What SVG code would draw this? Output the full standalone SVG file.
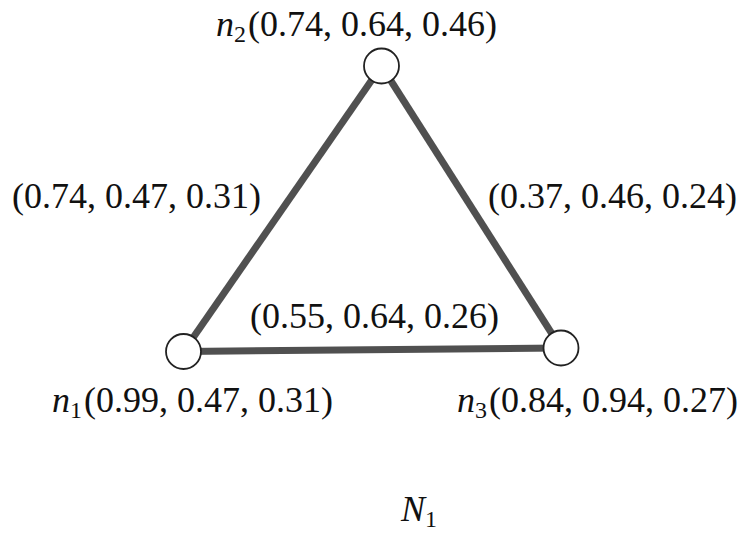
<svg xmlns="http://www.w3.org/2000/svg" width="751" height="537" viewBox="0 0 751 537">
<defs>
<circle id="nodeShape" r="17.5" fill="#fff" stroke="#222" stroke-width="1.8"/>
</defs>
<rect width="751" height="537" fill="#fff"/>
<g id="connectors" stroke="#505050" stroke-width="7" fill="none">
<line x1="381.5" y1="66" x2="183.5" y2="351.5"/>
<line x1="381.5" y1="66" x2="561" y2="348"/>
<line x1="183.5" y1="351.5" x2="561" y2="348"/>
</g>
<g id="edge-labels">
<text font-family="Liberation Serif" font-size="36" fill="#111" x="12" y="208">(0.74, 0.47, 0.31)</text>
<text font-family="Liberation Serif" font-size="36" fill="#111" x="488" y="208">(0.37, 0.46, 0.24)</text>
<text font-family="Liberation Serif" font-size="36" fill="#111" x="250" y="328">(0.55, 0.64, 0.26)</text>
</g>
<g id="n2">
<use href="#nodeShape" x="381.5" y="66"/>
<text font-family="Liberation Serif" font-size="36" fill="#111" x="216" y="36"><tspan font-style="italic">n</tspan><tspan font-size="24" dy="6">2</tspan><tspan dy="-6" dx="2">(0.74, 0.64, 0.46)</tspan></text>
</g>
<g id="n1">
<use href="#nodeShape" x="183.5" y="351.5"/>
<text font-family="Liberation Serif" font-size="36" fill="#111" x="52" y="412"><tspan font-style="italic">n</tspan><tspan font-size="24" dy="6">1</tspan><tspan dy="-6" dx="2">(0.99, 0.47, 0.31)</tspan></text>
</g>
<g id="n3">
<use href="#nodeShape" x="561" y="348"/>
<text font-family="Liberation Serif" font-size="36" fill="#111" x="457" y="412"><tspan font-style="italic">n</tspan><tspan font-size="24" dy="6">3</tspan><tspan dy="-6" dx="2">(0.84, 0.94, 0.27)</tspan></text>
</g>
<text font-family="Liberation Serif" font-size="36" fill="#111" x="401" y="521"><tspan font-style="italic">N</tspan><tspan font-size="24" dy="6">1</tspan></text>
</svg>
